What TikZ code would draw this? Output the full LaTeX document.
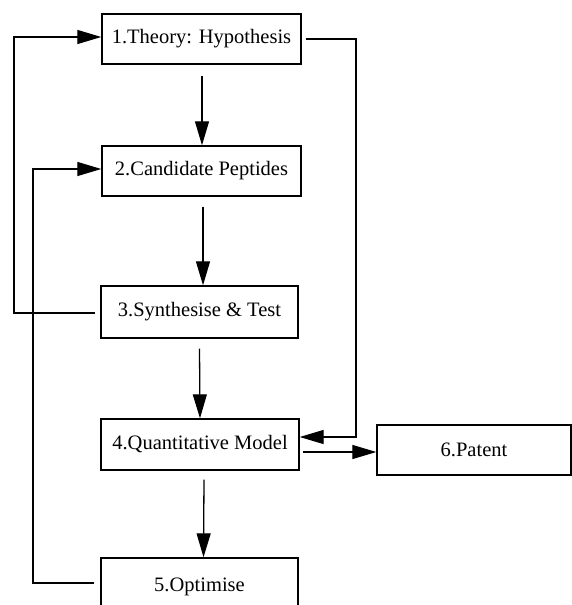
\documentclass[tikz,border=0pt]{standalone}
\usepackage{fontspec}
\setmainfont{Liberation Serif}
\usetikzlibrary{arrows.meta,calc}
\begin{document}
\begin{tikzpicture}[x=1pt,y=-1pt,
  box/.style={draw,line width=1.4pt,inner sep=0pt,font=\fontsize{20.5}{24}\selectfont},
  conn/.style={line width=1.3pt},
  arr/.style={conn,-{Triangle[length=24pt,width=14pt]}}]
\useasboundingbox (0,0) rectangle (572,605);
\node[box,minimum width=199pt,minimum height=50pt] (b1) at (201.5,39) {1.Theory: Hypothesis};
\node[box,minimum width=199pt,minimum height=50pt] (b2) at (201.5,171) {2.Candidate Peptides};
\node[box,minimum width=197pt,minimum height=52pt] (b3) at (199.5,312) {3.Synthesise \& Test};
\node[box,minimum width=198pt,minimum height=51pt] (b4) at (200,444.5) {4.Quantitative Model};
\node[box,minimum width=197pt,minimum height=58pt] (b5) at (199.5,587) {5.Optimise};
\node[box,minimum width=194pt,minimum height=50pt] (b6) at (474,450) {6.Patent};
% vertical flow
\draw[arr] ([xshift=0.5pt,yshift=-11pt]b1.south) -- ([xshift=0.5pt]b2.north);
\draw[arr] ([xshift=1.5pt,yshift=-10pt]b2.south) -- ([xshift=3.5pt]b3.north);
\draw[arr] ([yshift=-10pt]b3.south) -- (b4.north);
\draw[arr] ([xshift=4pt,yshift=-9pt]b4.south) -- ([xshift=4pt]b5.north);
% feedback loops
\coordinate (l3) at (14,313);
\coordinate (l1) at (14,37);
\draw[arr] ([xshift=-5pt]b3.west |- l3) -- (l3) -- (l1) -- (b1.west |- l1);
\coordinate (l5) at (33,583);
\coordinate (l2) at (33,169);
\draw[arr] ([xshift=-6pt]b5.west |- l5) -- (l5) -- (l2) -- (b2.west |- l2);
% right loop
\coordinate (r1) at (356,39);
\coordinate (r4) at (356,437);
\draw[arr] ([xshift=4pt]b1.east |- r1) -- (r1) -- (r4) -- (b4.east |- r4);
% to patent
\coordinate (p) at (340,452);
\draw[arr] ([xshift=3pt]b4.east |- p) -- (b6.west |- p);
\end{tikzpicture}
\end{document}
